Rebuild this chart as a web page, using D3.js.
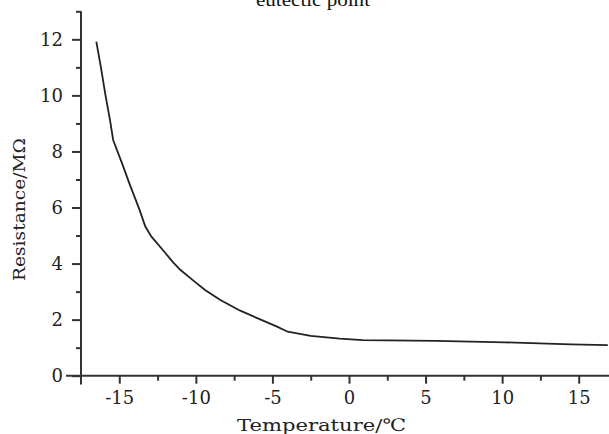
<!DOCTYPE html>
<html><head><meta charset="utf-8">
<script src="https://cdn.jsdelivr.net/npm/d3@7"></script>
<style>html,body{margin:0;padding:0;background:#fff;overflow:hidden}</style>
</head><body>
<script>
const temperatures = [-16.5, -16.2, -15.9, -15.6, -15.4, -14.8, -14.3, -13.7, -13.3, -12.9, -12.1, -11.5, -11.0, -10.2, -9.4, -8.4, -7.1, -5.8, -4.7, -4.0, -2.5, -0.6, 0.9, 5.7, 10.2, 14.5, 16.9];
const resistance = [11.92, 11.0, 10.0, 9.1, 8.41, 7.55, 6.8, 5.95, 5.32, 4.96, 4.45, 4.05, 3.77, 3.41, 3.06, 2.70, 2.32, 2.01, 1.75, 1.57, 1.42, 1.32, 1.27, 1.24, 1.19, 1.12, 1.09];
const xTicks = [-15, -10, -5, 0, 5, 10, 15];
const xMinorTicks = [-12.5, -7.5, -2.5, 2.5, 7.5, 12.5];
const yTicks = [0, 2, 4, 6, 8, 10, 12];
const yMinorTicks = [1, 3, 5, 7, 9, 11, 13];
const title = "eutectic point";
const xTitle = "Temperature/℃";
const yTitle = "Resistance/MΩ";

const W = 609, H = 434;
const svg = d3.select("body").append("svg").attr("width", W).attr("height", H);
const x = d3.scaleLinear().domain([-17.5, 17.5]).range([81, 617]);
const y = d3.scaleLinear().domain([0, 13]).range([375.7, 11.3]);
const axisColor = "#333";
const numFont = "'DejaVu Serif', serif";
const noLabel = () => "";

// title (partly clipped at top, as in the original)
svg.append("text").attr("x", 313).attr("y", 6).attr("text-anchor", "middle")
  .attr("font-family", "'Liberation Serif', serif").attr("font-size", 18)
  .attr("textLength", 114).attr("lengthAdjust", "spacingAndGlyphs").attr("fill", "#111").text(title);

// y axis
const gy = svg.append("g").attr("transform", `translate(${x(-17.5)},0)`);
gy.call(d3.axisLeft(y).tickValues(yTicks).tickSize(9).tickPadding(9).tickFormat(d3.format("d")));
gy.append("g").call(d3.axisLeft(y).tickValues(yMinorTicks).tickSize(5).tickFormat(noLabel));
gy.selectAll(".domain").remove();
gy.append("line").attr("class", "axisline").attr("x1", 0).attr("x2", 0).attr("y1", y(13)).attr("y2", 384.5);

// x axis
const gx = svg.append("g").attr("transform", `translate(0,${y(0)})`);
gx.call(d3.axisBottom(x).tickValues(xTicks).tickSize(8).tickPadding(8).tickFormat(d => d < 0 ? "-" + Math.abs(d) : String(d)));
gx.append("g").call(d3.axisBottom(x).tickValues(xMinorTicks).tickSize(5).tickFormat(noLabel));
gx.selectAll(".domain").remove();
gx.append("line").attr("class", "axisline").attr("x1", 66).attr("x2", W + 20).attr("y1", 0).attr("y2", 0);

svg.selectAll(".tick line, .axisline").attr("stroke", axisColor).attr("stroke-width", 2);
svg.selectAll(".tick text").attr("font-family", numFont).attr("font-size", 18).attr("fill", "#222");

// axis titles
svg.append("text").attr("x", 237).attr("y", 431)
  .attr("font-family", numFont).attr("font-size", 17)
  .attr("textLength", 169).attr("lengthAdjust", "spacingAndGlyphs").attr("fill", "#222").text(xTitle);
svg.append("text").attr("transform", "translate(25,281) rotate(-90)")
  .attr("font-family", numFont).attr("font-size", 16)
  .attr("textLength", 143).attr("lengthAdjust", "spacingAndGlyphs").attr("fill", "#222").text(yTitle);

// curve
const pts = temperatures.map((t, i) => [t, resistance[i]]);
svg.append("path").datum(pts)
  .attr("d", d3.line().x(d => x(d[0])).y(d => y(d[1])))
  .attr("fill", "none").attr("stroke", "#222").attr("stroke-width", 1.8);
</script>
</body></html>
